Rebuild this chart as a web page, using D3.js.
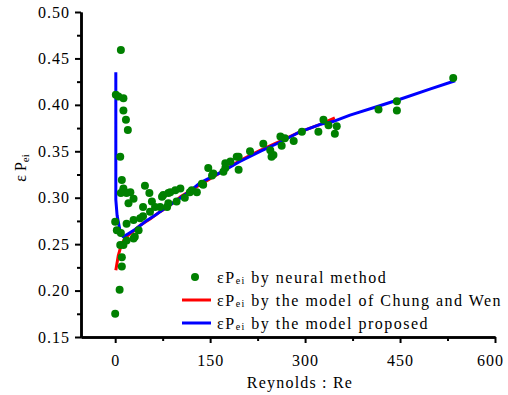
<!DOCTYPE html>
<html>
<head>
<meta charset="utf-8">
<script src="https://cdn.jsdelivr.net/npm/d3@7"></script>
<style>
  body { margin: 0; background: #fff; }
  svg text { font-family: "Liberation Serif", "Tinos", "DejaVu Serif", "Times New Roman", serif; fill: #000; }
  .axis path, .axis line { stroke: #000; }
  .axis path { stroke-width: 2.5; }
  .axis line { stroke-width: 2; }
  .axis text { font-size: 16px; letter-spacing: 1px; }
  .line { fill: none; stroke-width: 3; stroke-linejoin: round; }
  .legend text { font-size: 16px; letter-spacing: 1.5px; }
</style>
</head>
<body>
<div class="chart"></div>
<script>
// neural method points (Re, εPei)
const neuralRe = [1, 5, 13, 9, 13, 17, 20, 8,
  10.5, 47, 13, 9, 18, 29, 54, 58, 76, 84, 95, 44, 63, 39.5, 29, 18, 0, 2.6, 9, 82, 13, 29, 10.5, 10.5, 7, 0,
  44, 71, 84, 74, 18, 31, 8, 24, 21, 55, 37, 121, 137, 153, 192, 13,
  87, 103, 97, 118, 129, 139, 147, 155, 174, 182, 195, 195, 213, 234, 245, 250, 261, 268,
  171, 174, 247, 263, 282, 295, 321, 329, 337, 350, 347, 416, 445, 445, 534, 110];
const neuralP = [0.411, 0.409, 0.407, 0.459, 0.394, 0.384, 0.373, 0.344,
  0.319, 0.313, 0.308, 0.305, 0.305, 0.299, 0.305, 0.296, 0.303, 0.305, 0.308, 0.290, 0.290, 0.278, 0.276, 0.272, 0.274, 0.265, 0.262, 0.290, 0.249, 0.256, 0.236, 0.226, 0.201, 0.175,
  0.280, 0.290, 0.294, 0.301, 0.254, 0.258, 0.249, 0.306, 0.294, 0.285, 0.265, 0.308, 0.315, 0.324, 0.344, 0.310,
  0.306, 0.310, 0.296, 0.306, 0.306, 0.314, 0.332, 0.326, 0.332, 0.339, 0.344, 0.330, 0.350, 0.358, 0.351, 0.346, 0.366, 0.364,
  0.328, 0.337, 0.344, 0.356, 0.361, 0.371, 0.371, 0.384, 0.378, 0.377, 0.369, 0.395, 0.404, 0.394, 0.429, 0.300];

// model of Chung and Wen
const chungRe = [1, 5, 9.5, 16, 27, 39, 55, 71, 87, 103, 134, 166, 197, 229, 261, 292, 324, 347];
const chungP = [0.222, 0.238, 0.249, 0.257, 0.263, 0.270, 0.277, 0.285, 0.292, 0.301, 0.314, 0.327, 0.340, 0.351, 0.361, 0.371, 0.379, 0.386];

// proposed model
const propRe = [1, 1, 3, 8, 12.6, 20, 32, 47, 63, 79, 95, 118, 134, 166, 197, 229, 261, 292, 324, 344, 371, 418, 450, 497, 537];
const propP = [0.435, 0.298, 0.281, 0.263, 0.258, 0.261, 0.266, 0.274, 0.281, 0.289, 0.296, 0.307, 0.316, 0.327, 0.339, 0.350, 0.360, 0.371, 0.379, 0.382, 0.389, 0.399, 0.406, 0.417, 0.426];

const xTicks = [0, 150, 300, 450, 600];
const xMinor = [75, 225, 375, 525];
const yTicks = [0.15, 0.20, 0.25, 0.30, 0.35, 0.40, 0.45, 0.50];
const yMinor = [0.175, 0.225, 0.275, 0.325, 0.375, 0.425, 0.475];
const legendLabels = [" by neural method", " by the model of Chung and Wen", " by the model proposed"];
const legendColors = ["#008000", "#ff0000", "#0000ff"];

let width = 508, height = 395;
let margin = { top: 12, right: 13, bottom: 58, left: 81 };

let svg = d3.select('.chart').append('svg')
  .attr('width', width)
  .attr('height', height);

let x = d3.scaleLinear().domain([-54, 600]).range([margin.left, width - margin.right]);
let y = d3.scaleLinear().domain([0.15, 0.50]).range([height - margin.bottom, margin.top]);

// axes (minor ticks first, then major with labels)
svg.append('g').classed('axis', true)
  .attr('transform', 'translate(0,' + (height - margin.bottom) + ')')
  .call(d3.axisBottom(x).tickValues(xMinor).tickSize(4).tickSizeOuter(0).tickFormat(''));
let gx = svg.append('g').classed('x axis', true)
  .attr('transform', 'translate(0,' + (height - margin.bottom) + ')')
  .call(d3.axisBottom(x).tickValues(xTicks).tickSize(6).tickSizeOuter(0).tickPadding(12).tickFormat(d3.format('d')));
gx.selectAll('text').filter(d => d === 600).attr('dx', -5);

svg.append('g').classed('axis', true)
  .attr('transform', 'translate(' + margin.left + ',0)')
  .call(d3.axisLeft(y).tickValues(yMinor).tickSize(4).tickSizeOuter(0).tickFormat(''));
svg.append('g').classed('y axis', true)
  .attr('transform', 'translate(' + margin.left + ',0)')
  .call(d3.axisLeft(y).tickValues(yTicks).tickSize(6).tickSizeOuter(0).tickPadding(5).tickFormat(d3.format('.2f')));

// lines
let line = d3.line().x(d => x(d[0])).y(d => y(d[1]));
svg.append('path').classed('line', true)
  .datum(d3.zip(chungRe, chungP))
  .attr('stroke', '#ff0000')
  .attr('d', line);
svg.append('path').classed('line', true)
  .datum(d3.zip(propRe, propP))
  .attr('stroke', '#0000ff')
  .attr('d', line);

// neural points
svg.selectAll('.dot')
  .data(d3.zip(neuralRe, neuralP))
  .enter().append('circle')
  .attr('class', 'dot')
  .attr('cx', d => x(d[0]))
  .attr('cy', d => y(d[1]))
  .attr('r', 4)
  .attr('fill', '#008000');

// axis titles
svg.append('text')
  .attr('x', 300).attr('y', 388)
  .attr('text-anchor', 'middle')
  .style('font-size', '16px')
  .style('letter-spacing', '1.2px')
  .text('Reynolds : Re');

let yl = svg.append('text')
  .attr('transform', 'translate(26,168) rotate(-90)')
  .attr('text-anchor', 'middle')
  .style('font-size', '16px');
yl.append('tspan').text('ε P');
yl.append('tspan').style('font-size', '11px').attr('dy', 3).text('ei');

// legend
let legend = svg.append('g').classed('legend', true);
legendLabels.forEach(function (lab, i) {
  let ly = 277 + i * 23;
  if (i === 0) {
    legend.append('circle').attr('cx', 195).attr('cy', ly).attr('r', 4).attr('fill', legendColors[i]);
  } else {
    legend.append('line')
      .attr('x1', 182).attr('x2', 211).attr('y1', ly).attr('y2', ly)
      .attr('stroke', legendColors[i]).attr('stroke-width', 3);
  }
  let t = legend.append('text').attr('x', 217).attr('y', ly + 6);
  t.append('tspan').text('εP');
  t.append('tspan').style('font-size', '10px').attr('dy', 1).text('ei');
  t.append('tspan').attr('dy', -1).text(lab);
});
</script>
</body>
</html>
